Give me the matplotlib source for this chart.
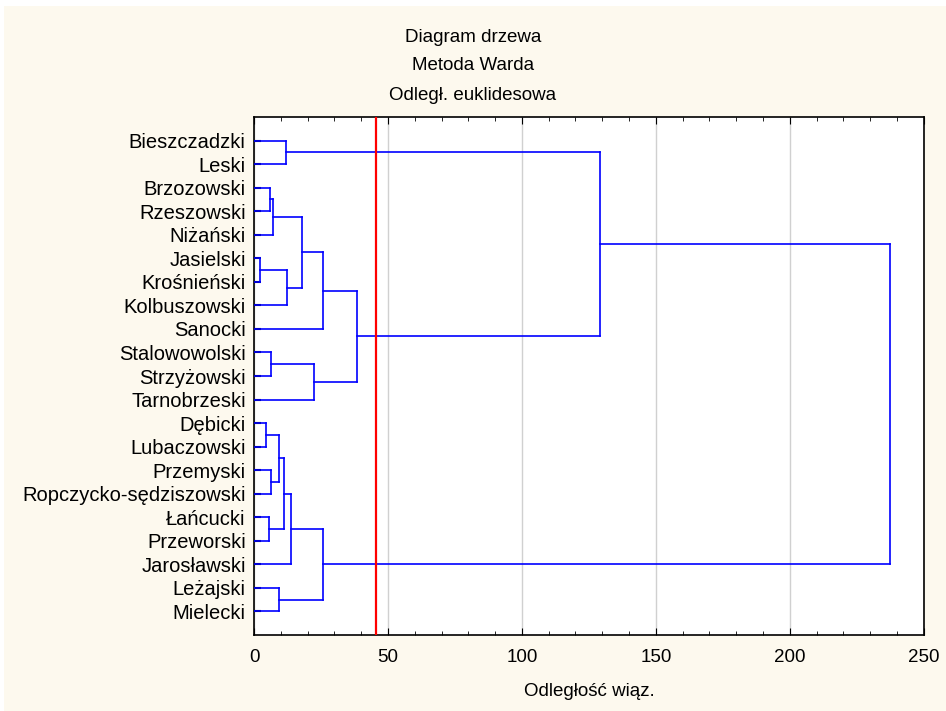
import matplotlib
matplotlib.use("Agg")
import matplotlib.pyplot as plt
from matplotlib.ticker import MultipleLocator
from matplotlib.patches import Rectangle

plt.rcParams['font.family'] = ['Liberation Sans', 'DejaVu Sans']

# leaves in the order drawn from top to bottom
leaves = ['Bieszczadzki', 'Leski', 'Brzozowski', 'Rzeszowski', 'Niżański',
          'Jasielski', 'Krośnieński', 'Kolbuszowski', 'Sanocki',
          'Stalowowolski', 'Strzyżowski', 'Tarnobrzeski', 'Dębicki',
          'Lubaczowski', 'Przemyski', 'Ropczycko-sędziszowski', 'Łańcucki',
          'Przeworski', 'Jarosławski', 'Leżajski', 'Mielecki']

# linkage: each merge creates cluster n, n+1, ... (n = number of leaves)
merge_a = [0, 2, 22, 5, 24, 23, 26, 9, 28, 27, 21, 12, 14, 32, 16, 34, 36, 19, 37, 31]
merge_b = [1, 3, 4, 6, 7, 25, 8, 10, 11, 29, 30, 13, 15, 33, 17, 35, 18, 20, 38, 39]
merge_h = [11.8, 5.9, 7.1, 2.2, 12.5, 17.8, 25.7, 6.2, 22.4, 38.4, 129.3,
           4.6, 6.2, 9.2, 5.6, 11.3, 13.8, 9.2, 25.7, 237.3]

cut_level = 45.5
xticks = [0, 50, 100, 150, 200, 250]

fig = plt.figure(figsize=(9.46, 7.11), dpi=100, facecolor='white')
fig.patches.append(Rectangle((0.004, 0), 0.996, 0.992, transform=fig.transFigure,
                             facecolor='#fdf9ee', edgecolor='none', zorder=-10))
ax = fig.add_axes([0.2685, 0.1069, 0.708, 0.7285])
ax.set_facecolor('white')

n = len(leaves)
pos = {i: float(i) for i in range(n)}
hgt = {i: 0.0 for i in range(n)}
for k, (a, b, h) in enumerate(zip(merge_a, merge_b, merge_h)):
    c = n + k
    ax.plot([hgt[a], h], [pos[a], pos[a]], color='#0000ff', lw=1.2, zorder=3)
    ax.plot([hgt[b], h], [pos[b], pos[b]], color='#0000ff', lw=1.2, zorder=3)
    ax.plot([h, h], [pos[a], pos[b]], color='#0000ff', lw=1.2, zorder=3)
    pos[c] = (pos[a] + pos[b]) / 2
    hgt[c] = h

ax.axvline(cut_level, color='#ff0000', lw=1.6, zorder=4)

ax.set_xlim(0, 250)
ax.set_ylim(n, -1)
ax.set_xticks(xticks)
ax.xaxis.set_minor_locator(MultipleLocator(10))
ax.set_yticks(range(n))
ax.set_yticklabels(leaves)
ax.grid(axis='x', which='major', color='#d0d0d0', lw=1)
ax.set_axisbelow(True)
ax.tick_params(axis='x', which='both', direction='in', top=True, bottom=True,
               labelsize=13.5, pad=10)
ax.tick_params(axis='x', which='major', length=5)
ax.tick_params(axis='x', which='minor', length=3)
ax.tick_params(axis='y', direction='in', length=5, width=1.5, labelsize=14.5, pad=6)
for s in ax.spines.values():
    s.set_color('black')
    s.set_linewidth(1.2)

ax.set_xlabel('Odległość wiąz.', fontsize=13.5, labelpad=12)

fig.text(0.5, 1 - 38 / 711, 'Diagram drzewa', ha='center', va='center', fontsize=13.5)
fig.text(0.5, 1 - 66 / 711, 'Metoda Warda', ha='center', va='center', fontsize=13.5)
fig.text(0.5, 1 - 95 / 711, 'Odległ. euklidesowa', ha='center', va='center', fontsize=13.5)

fig.savefig('out.png', dpi=100, facecolor=fig.get_facecolor())
